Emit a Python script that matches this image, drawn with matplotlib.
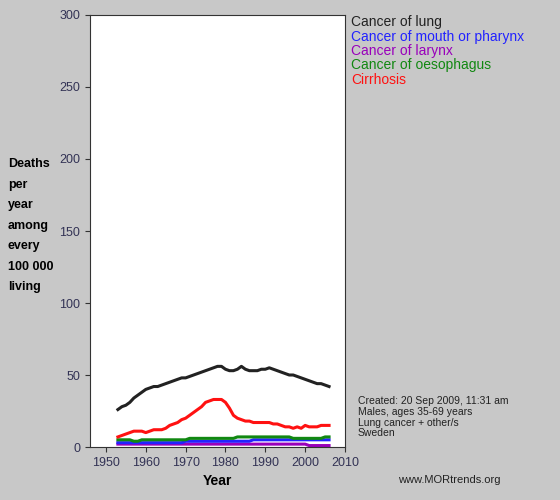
import matplotlib.pyplot as plt

plt.rcParams["font.family"] = ["Liberation Sans", "DejaVu Sans"]

years = list(range(1953, 2007))
lung = [26, 28, 29, 31, 34, 36, 38, 40, 41, 42, 42, 43, 44, 45, 46, 47, 48, 48, 49, 50, 51, 52, 53, 54, 55, 56, 56, 54, 53, 53, 54, 56, 54, 53, 53, 53, 54, 54, 55, 54, 53, 52, 51, 50, 50, 49, 48, 47, 46, 45, 44, 44, 43, 42]
cirr = [7, 8, 9, 10, 11, 11, 11, 10, 11, 12, 12, 12, 13, 15, 16, 17, 19, 20, 22, 24, 26, 28, 31, 32, 33, 33, 33, 31, 27, 22, 20, 19, 18, 18, 17, 17, 17, 17, 17, 16, 16, 15, 14, 14, 13, 14, 13, 15, 14, 14, 14, 15, 15, 15]
mouth = [3, 3, 3, 3, 3, 3, 3, 3, 3, 3, 3, 3, 3, 3, 3, 3, 3, 4, 4, 4, 4, 4, 4, 4, 4, 4, 4, 4, 4, 4, 4, 4, 4, 4, 5, 5, 5, 5, 5, 5, 5, 5, 5, 5, 5, 5, 5, 5, 5, 5, 5, 5, 5, 5]
larynx = [2, 2, 2, 2, 2, 2, 2, 2, 2, 2, 2, 2, 2, 2, 2, 2, 2, 2, 2, 2, 2, 2, 2, 2, 2, 2, 2, 2, 2, 2, 2, 2, 2, 2, 2, 2, 2, 2, 2, 2, 2, 2, 2, 2, 2, 2, 2, 2, 1, 1, 1, 1, 1, 1]
oeso = [5, 5, 5, 5, 4, 4, 5, 5, 5, 5, 5, 5, 5, 5, 5, 5, 5, 5, 6, 6, 6, 6, 6, 6, 6, 6, 6, 6, 6, 6, 7, 7, 7, 7, 7, 7, 7, 7, 7, 7, 7, 7, 7, 7, 6, 6, 6, 6, 6, 6, 6, 6, 7, 7]

series = [("Cancer of lung", lung, "#222222"),
          ("Cancer of mouth or pharynx", mouth, "#2222ff"),
          ("Cancer of larynx", larynx, "#9900bb"),
          ("Cancer of oesophagus", oeso, "#118811"),
          ("Cirrhosis", cirr, "#ff1111")]

fig = plt.figure(figsize=(5.6, 5.0), dpi=100, facecolor="#c8c8c8")
ax = fig.add_axes([90/560, 53/500, 255/560, 432/500])
ax.set_facecolor("white")
for name, vals, c in [series[2], series[1], series[3], series[4], series[0]]:
    ax.plot(years, vals, color=c, lw=2.2)
ax.set_xlim(1946, 2010)
ax.set_ylim(0, 300)
ax.set_xticks(range(1950, 2011, 10))
ax.set_yticks(range(0, 301, 50))
ax.tick_params(colors="#333333", labelsize=9, labelcolor="#333355")
for s in ax.spines.values():
    s.set_color("#333333")
ax.set_xlabel("Year", fontsize=10, fontweight="bold")

fig.text(8/560, 1 - 158/500, "Deaths\nper\nyear\namong\nevery\n100 000\nliving",
         fontsize=9, fontweight="bold", va="top", ha="left", linespacing=1.95)

for i, (name, vals, c) in enumerate(series):
    fig.text(351/560, 1 - (22 + i*14.5)/500, name, color=c, fontsize=10, va="center")

fig.text(358/560, 1 - 396/500,
         "Created: 20 Sep 2009, 11:31 am\nMales, ages 35-69 years\nLung cancer + other/s\nSweden",
         fontsize=7.5, va="top", color="#222222", linespacing=1.1)
fig.text(398/560, 1 - 480/500, "www.MORtrends.org", fontsize=8, va="center", color="#222222")

fig.savefig("out.png", dpi=100, facecolor=fig.get_facecolor())
